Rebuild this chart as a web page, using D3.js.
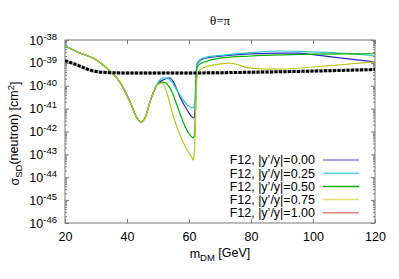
<!DOCTYPE html>
<html>
<head>
<meta charset="utf-8">
<script src="https://cdn.jsdelivr.net/npm/d3@7"></script>
<style>
  body { margin: 0; background: #fff; }
  text { font-family: "Liberation Sans", Arial, sans-serif; }
</style>
</head>
<body>
<script>
// values, log10 of sigma in cm^2
const massCommon = [20, 24.8, 29, 32.3, 34.5, 37.7, 41.0, 43.2, 44.5, 45.8, 47.4];
const logCommon = [-38.26, -38.57, -38.79, -39.09, -39.36, -39.84, -40.71, -41.41, -41.58, -41.41, -40.71];

const mass00 = [49.7, 51.6, 53.9, 54.8, 57.1, 59.4, 61.0, 61.6, 62.0, 62.3, 62.6, 64.5, 71, 80, 90, 95, 100, 110, 120];
const log00 = [-39.95, -39.75, -39.66, -39.80, -40.49, -41.06, -41.37, -41.41, -41.0, -39.6, -39.05, -38.83, -38.70, -38.61, -38.57, -38.57, -38.64, -38.80, -38.96];

const mass25 = [49.7, 51.6, 53.5, 56.1, 58.1, 60.3, 61.3, 61.8, 62.2, 62.6, 64.5, 71, 80, 90, 100, 110, 120];
const log25 = [-39.93, -39.66, -39.70, -40.19, -40.62, -40.93, -40.97, -40.8, -39.8, -39.0, -38.79, -38.66, -38.55, -38.48, -38.52, -38.58, -38.70];

const mass50 = [49.7, 51.6, 53.9, 56.1, 58.1, 60.3, 61.3, 61.8, 62.1, 62.3, 62.6, 63.5, 65, 70, 80, 90, 100, 110, 120];
const log50 = [-39.97, -39.84, -40.10, -40.84, -41.58, -42.15, -42.28, -42.1, -41.0, -39.7, -39.20, -39.05, -38.96, -38.79, -38.70, -38.65, -38.62, -38.61, -38.60];

const mass75 = [49.7, 51.3, 52.9, 54.8, 57.1, 59.4, 61.0, 61.3, 61.6, 62.0, 62.3, 62.6, 63.0, 64.5, 70, 73, 76, 79, 85, 90, 100, 110, 120];
const log75 = [-39.97, -39.88, -40.32, -41.28, -42.15, -42.81, -43.16, -43.25, -43.1, -42.0, -40.3, -39.6, -39.40, -39.22, -39.05, -39.01, -39.09, -39.22, -39.27, -39.27, -39.18, -39.07, -38.96];

// |y'/y| = 1.00 curve is not visible inside the plot range
const mass100 = [];
const log100 = [];

const massLimit = [20, 22.5, 25, 27.5, 30, 35, 40, 60, 80, 100, 120];
const logLimit = [-38.90, -39.02, -39.15, -39.29, -39.38, -39.43, -39.44, -39.44, -39.41, -39.36, -39.29];

const labels = ["F12, |y\u2019/y|=0.00", "F12, |y\u2019/y|=0.25", "F12, |y\u2019/y|=0.50", "F12, |y\u2019/y|=0.75", "F12, |y\u2019/y|=1.00"];
const xTicks = [20, 40, 60, 80, 100, 120];
const yExps = [-38, -39, -40, -41, -42, -43, -44, -45, -46];

const series = [
  {m: massCommon.concat(mass00), v: logCommon.concat(log00)},
  {m: massCommon.concat(mass25), v: logCommon.concat(log25)},
  {m: massCommon.concat(mass50), v: logCommon.concat(log50)},
  {m: massCommon.concat(mass75), v: logCommon.concat(log75)},
  {m: mass100, v: log100}
];
const colors = ["#2a2ac8", "#2cc8c8", "#00b000", "#b8c81e", "#d04040"];
const legendColors = ["#8484e4", "#5cd4d4", "#00b000", "#e0e070", "#e08080"];

const W = 399, H = 279;
const mLeft = 65, mRight = 375, mTop = 40, mBottom = 223;

const x = d3.scaleLinear().domain([20, 120]).range([mLeft, mRight]);
const y = d3.scaleLog().domain([1e-46, 1e-38]).range([mBottom, mTop]);

const svg = d3.select("body").append("svg")
    .attr("width", W)
    .attr("height", H);

svg.append("defs").append("clipPath").attr("id", "clip")
  .append("rect")
    .attr("x", mLeft).attr("y", mTop)
    .attr("width", mRight - mLeft).attr("height", mBottom - mTop);

const grey = "#7a7a7a";

// axes, gnuplot style ticks pointing inward
svg.append("g").attr("transform", `translate(0,${mBottom})`)
    .call(d3.axisBottom(x).tickValues(xTicks).tickSize(-4).tickPadding(9));
svg.append("g").attr("transform", `translate(0,${mTop})`)
    .call(d3.axisTop(x).tickValues(xTicks).tickSize(-4).tickFormat(""));

const majors = yExps.map(e => Math.pow(10, e));
const minors = [];
yExps.slice(0, -1).forEach(e => {
  for (let k = 2; k <= 9; k++) minors.push(k * Math.pow(10, e - 1));
});

const yl = svg.append("g").attr("transform", `translate(${mLeft},0)`)
    .call(d3.axisLeft(y).tickValues(majors).tickSize(-4).tickPadding(8));
svg.append("g").attr("transform", `translate(${mLeft},0)`)
    .call(d3.axisLeft(y).tickValues(minors).tickSize(-2).tickFormat(""));
svg.append("g").attr("transform", `translate(${mRight},0)`)
    .call(d3.axisRight(y).tickValues(majors).tickSize(-4).tickFormat(""));
svg.append("g").attr("transform", `translate(${mRight},0)`)
    .call(d3.axisRight(y).tickValues(minors).tickSize(-2).tickFormat(""));

svg.selectAll(".domain").remove();
svg.selectAll(".tick line").attr("stroke", grey);
svg.selectAll(".tick text").attr("fill", "#000").style("font-size", "12.5px")
    .style("font-family", "Liberation Sans, Arial, sans-serif");

yl.selectAll(".tick text").each(function(d) {
  const t = d3.select(this).text("");
  t.append("tspan").text("10");
  t.append("tspan").attr("dy", "-0.5em").style("font-size", "9.5px")
    .text(Math.round(Math.log10(d)));
});

svg.append("rect")
    .attr("x", mLeft).attr("y", mTop)
    .attr("width", mRight - mLeft).attr("height", mBottom - mTop)
    .attr("fill", "none").attr("stroke", grey).attr("stroke-width", 1);

// curves, drawn in legend order like gnuplot
const line = d3.line()
    .x(d => x(d[0]))
    .y(d => y(Math.pow(10, d[1])))
    .curve(d3.curveMonotoneX);

const plot = svg.append("g").attr("clip-path", "url(#clip)");

series.forEach((s, i) => {
  plot.append("path")
      .datum(s.m.map((m, j) => [m, s.v[j]]))
      .attr("fill", "none")
      .attr("stroke", colors[i])
      .attr("stroke-width", 1.2)
      .attr("d", line);
});

const limitData = massLimit.map((m, j) => [m, logLimit[j]]);
plot.append("path")
    .datum(limitData)
    .attr("fill", "none")
    .attr("stroke", "#b0b0b0")
    .attr("stroke-width", 3)
    .attr("d", line);
plot.append("path")
    .datum(limitData)
    .attr("fill", "none")
    .attr("stroke", "#000")
    .attr("stroke-width", 3)
    .attr("stroke-dasharray", "3,1.5")
    .attr("d", line);

// legend
const leg = svg.append("g");
labels.forEach((lab, i) => {
  const yy = 160 + i * 13.2;
  leg.append("text")
      .attr("x", 315).attr("y", yy)
      .attr("dy", "0.35em")
      .attr("text-anchor", "end")
      .style("font-size", "12.5px")
      .text(lab);
  leg.append("line")
      .attr("x1", 323).attr("x2", 359)
      .attr("y1", yy).attr("y2", yy)
      .attr("stroke", legendColors[i])
      .attr("stroke-width", 1.5);
});

// title and axis labels
svg.append("text")
    .attr("x", (mLeft + mRight) / 2).attr("y", 25)
    .attr("text-anchor", "middle")
    .style("font-family", "Liberation Serif, Times New Roman, serif")
    .style("font-size", "13px")
    .text("\u03b8=\u03c0");

const xl = svg.append("text")
    .attr("x", (mLeft + mRight) / 2).attr("y", 258)
    .attr("text-anchor", "middle")
    .style("font-size", "12.5px");
xl.append("tspan").text("m");
xl.append("tspan").attr("dy", "0.3em").style("font-size", "9.5px").text("DM");
xl.append("tspan").attr("dy", "-0.3em").text(" [GeV]");

const ylab = svg.append("text")
    .attr("transform", `translate(19,${(mTop + mBottom) / 2 + 2}) rotate(-90)`)
    .attr("text-anchor", "middle")
    .style("font-size", "12.5px");
ylab.append("tspan").text("\u03c3");
ylab.append("tspan").attr("dy", "0.3em").style("font-size", "9.5px").text("SD");
ylab.append("tspan").attr("dy", "-0.3em").text("(neutron) [cm");
ylab.append("tspan").attr("dy", "-0.45em").style("font-size", "9.5px").text("2");
ylab.append("tspan").attr("dy", "0.45em").text("]");
</script>
</body>
</html>
